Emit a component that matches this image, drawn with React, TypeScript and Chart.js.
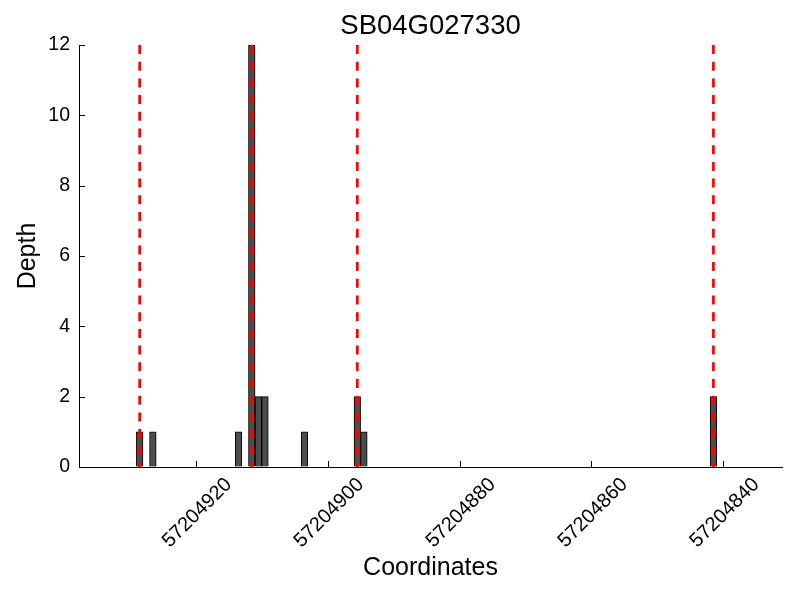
import React, { useEffect, useRef } from "react";
import { Chart, registerables } from "chart.js";

Chart.register(...registerables);

const chartTitle = "SB04G027330";
const xAxisTitle = "Coordinates";
const yAxisTitle = "Depth";

// bar centres (genomic coordinate) and read depth
const coordinates = [
  57204928.5, 57204926.5, 57204913.5, 57204911.5, 57204910.5,
  57204909.5, 57204903.5, 57204895.5, 57204894.5, 57204841.5,
];
const depths = [1, 1, 1, 12, 2, 2, 1, 2, 1, 2];

// red dashed marker positions
const markerCoords = [57204928.5, 57204911.5, 57204895.5, 57204841.5];

const xTickValues = [57204920, 57204900, 57204880, 57204860, 57204840];
const xMin = 57204831.1;
const xMax = 57204937.7;
const yMin = 0;
const yMax = 12;
const yStep = 2;

const FONT = "'Liberation Sans', Arial, sans-serif";

const inwardTicks = {
  id: "inwardTicks",
  afterDraw(chart: any) {
    const ctx = chart.ctx;
    const xs = chart.scales.x;
    const ys = chart.scales.y;
    const area = chart.chartArea;
    ctx.save();
    ctx.strokeStyle = "#000";
    ctx.lineWidth = 1;
    ctx.beginPath();
    xs.ticks.forEach((t: any) => {
      const px = Math.round(xs.getPixelForValue(t.value)) + 0.5;
      ctx.moveTo(px, area.bottom);
      ctx.lineTo(px, area.bottom - 6);
    });
    ys.ticks.forEach((t: any) => {
      const py = Math.round(ys.getPixelForValue(t.value)) + 0.5;
      ctx.moveTo(area.left, py);
      ctx.lineTo(area.left + 6, py);
    });
    ctx.stroke();
    ctx.restore();
  },
};

export default function App() {
  const canvasRef = useRef<HTMLCanvasElement | null>(null);

  useEffect(() => {
    const canvas = canvasRef.current;
    if (!canvas) return;

    const barData = coordinates.map((c, i) => ({ x: c, y: depths[i] }));
    const markerSets = markerCoords.map((m) => ({
      type: "line" as const,
      data: [
        { x: m, y: yMax },
        { x: m, y: yMin },
      ],
      borderColor: "#ff0000",
      borderWidth: 2.7,
      borderDash: [9, 7.7],
      borderCapStyle: "butt",
      pointRadius: 0,
      fill: false,
      order: 1,
    }));

    const chart = new Chart(canvas, {
      type: "bar",
      data: {
        datasets: [
          {
            type: "bar" as const,
            data: barData,
            backgroundColor: "#4d4d4d",
            borderColor: "#000000",
            borderWidth: 1,
            barPercentage: 1,
            categoryPercentage: 1,
            order: 2,
          } as any,
          ...(markerSets as any[]),
        ],
      },
      options: {
        responsive: false,
        animation: false,
        layout: { padding: { left: 0, right: 18, top: 0, bottom: 0 } },
        plugins: {
          legend: { display: false },
          tooltip: { enabled: false },
          title: {
            display: true,
            fullSize: false,
            text: chartTitle,
            color: "#000",
            font: { family: FONT, size: 27.5, weight: "normal", lineHeight: 1.2 },
            padding: { top: 10, bottom: 2 },
          },
        },
        scales: {
          x: {
            type: "linear",
            reverse: true,
            offset: false,
            min: xMin,
            max: xMax,
            afterBuildTicks: (scale: any) => {
              scale.ticks = xTickValues.map((v) => ({ value: v }));
            },
            afterFit: (scale: any) => {
              scale.height = 133;
            },
            grid: { display: true, drawOnChartArea: false, drawTicks: false },
            border: { display: true, color: "#000", width: 1 },
            ticks: {
              autoSkip: false,
              minRotation: 45,
              maxRotation: 45,
              labelOffset: 33,
              padding: 6,
              color: "#000",
              font: { family: FONT, size: 20 },
              callback: (v: any) => String(v),
            },
            title: {
              display: true,
              text: xAxisTitle,
              color: "#000",
              font: { family: FONT, size: 25, lineHeight: 1.2 },
              padding: { top: 0, bottom: 17 },
            },
          },
          y: {
            type: "linear",
            min: yMin,
            max: yMax,
            afterFit: (scale: any) => {
              scale.width = 79;
            },
            grid: { display: true, drawOnChartArea: false, drawTicks: false },
            border: { display: true, color: "#000", width: 1 },
            ticks: {
              stepSize: yStep,
              padding: 9,
              color: "#000",
              font: { family: FONT, size: 19.5 },
              callback: (v: any) => String(v),
            },
            title: {
              display: true,
              text: yAxisTitle,
              color: "#000",
              font: { family: FONT, size: 25, lineHeight: 1.2 },
              padding: { top: 13, bottom: 0 },
            },
          },
        },
      },
      plugins: [inwardTicks],
    });

    return () => chart.destroy();
  }, []);

  return (
    <div
      style={{
        position: "fixed",
        left: 0,
        top: 0,
        width: 800,
        height: 600,
        background: "#fff",
      }}
    >
      <canvas ref={canvasRef} width={800} height={600} />
    </div>
  );
}
